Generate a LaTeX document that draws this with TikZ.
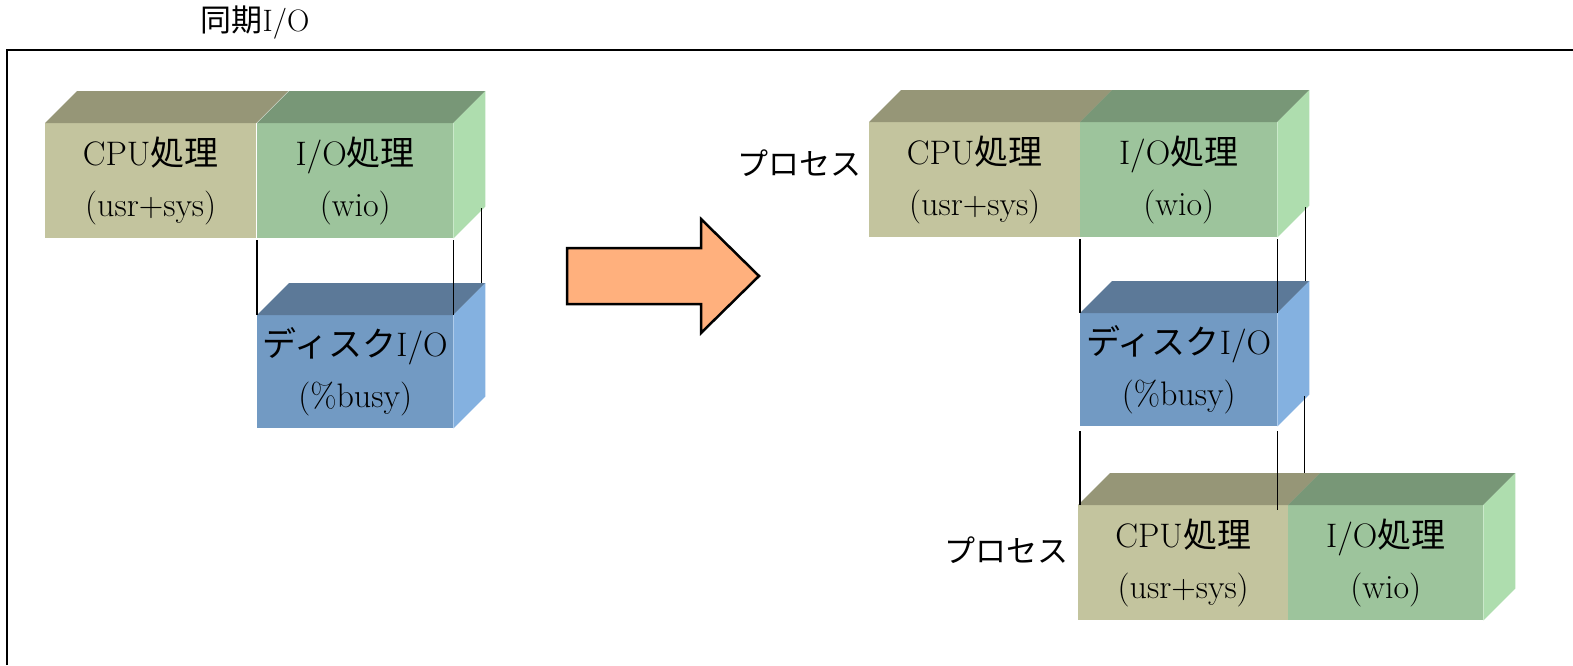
\documentclass[tikz,border=0pt]{standalone}
\usepackage{fontspec}
\usepackage{xcolor}
\usepackage{tikz}
\newfontfamily\jp{Noto Sans CJK JP}

\definecolor{cpufront}{HTML}{C3C49E}
\definecolor{cputop}{HTML}{969677}
\definecolor{iofront}{HTML}{9DC49C}
\definecolor{iotop}{HTML}{789777}
\definecolor{ioside}{HTML}{AEDDAE}
\definecolor{diskfront}{HTML}{729AC3}
\definecolor{disktop}{HTML}{5C7998}
\definecolor{diskside}{HTML}{84B1E0}
\definecolor{arrowfill}{HTML}{FFB07D}

\tikzset{
  frontface/.style={anchor=north west, inner sep=0pt, minimum height=115pt,
    align=center, font=\fontsize{34}{51}\selectfont},
  cpubox/.style={frontface, fill=cpufront, minimum width=211pt},
  iobox/.style={frontface, fill=iofront, minimum width=196pt},
  diskbox/.style={frontface, fill=diskfront, minimum width=196pt, minimum height=113pt},
  proclabel/.style={anchor=east, font=\fontsize{31}{36}\selectfont\jp},
  tie/.style={line width=1.4pt, shorten <=2pt},
}

\begin{document}
\begin{tikzpicture}[x=1pt, y=-1pt]
            \useasboundingbox (0,0) rectangle (1573,665);

            % frame and title
            \draw[line width=2pt] (7,665) -- (7,50) -- (1573,50);
            \node[font=\fontsize{31}{36}\selectfont] (title) at (255,23) {{\jp 同期}I/O};

            % left: before
            \node[cpubox] (cpuL) at (45,123) {CPU{\jp 処理}\\(usr+sys)};
            \node[iobox] (ioL) at (257,123) {I/O{\jp 処理}\\(wio)};
            \node[diskbox] (diskL) at (257,315) {{\jp ディスク}I/O\\(\%busy)};

            % right: after
            \node[cpubox] (cpuR) at (869,122) {CPU{\jp 処理}\\(usr+sys)};
            \node[iobox, minimum width=197pt] (ioR) at (1080,122) {I/O{\jp 処理}\\(wio)};
            \node[diskbox, minimum width=197pt] (diskR) at (1080,313) {{\jp ディスク}I/O\\(\%busy)};
            \node[cpubox, minimum width=210pt] (cpuB) at (1078,505) {CPU{\jp 処理}\\(usr+sys)};
            \node[iobox, minimum width=195pt] (ioB) at (1288,505) {I/O{\jp 処理}\\(wio)};
            \node[proclabel] (procR) at (865,163) {プロセス};
            \node[proclabel] (procB) at (1072,550) {プロセス};

            % tops and sides
            \foreach \b/\c in {cpuL/cputop, ioL/iotop, diskL/disktop, cpuR/cputop,
                               ioR/iotop, diskR/disktop, cpuB/cputop, ioB/iotop}
              \fill[\c] (\b.north west) -- ++(32,-32) -- ([shift={(32,-32)}]\b.north east)
                        -- (\b.north east) -- cycle;
            \foreach \b/\c in {ioL/ioside, diskL/diskside, ioR/ioside, diskR/diskside, ioB/ioside}
              \fill[\c] (\b.north east) -- ++(32,-32) -- ([shift={(32,-32)}]\b.south east)
                        -- (\b.south east) -- cycle;

            % ties between blocks
            \draw[tie] (ioL.south west) -- (diskL.north west);
            \draw[tie] (ioL.south east) -- (diskL.north east);
            \draw[tie] ([shift={(28,-32)}]ioL.south east) -- ([shift={(28,-32)}]diskL.north east);

            \draw[tie] (ioR.south west) -- (diskR.north west);
            \draw[tie] (ioR.south east) -- (diskR.north east);
            \draw[tie] ([shift={(28,-32)}]ioR.south east) -- ([shift={(28,-32)}]diskR.north east);

            \coordinate (sideR) at ([shift={(27,-32)}]diskR.south east);
            \coordinate (backB) at ([yshift=32pt]cpuB.north);
            \draw[tie, shorten <=5pt] (diskR.south west) -- (diskR.south west |- cpuB.north);
            \draw[tie, shorten <=5pt] (diskR.south east) -- ([yshift=-5pt]diskR.south east |- cpuB.north);
            \draw[tie] (sideR) -- (sideR |- backB);

            % big arrow
            \draw[line width=2.5pt, fill=arrowfill] (567,248) -- (701,248) -- (701,219)
              -- (759,276) -- (701,333) -- (701,304) -- (567,304) -- cycle;
          \end{tikzpicture}
\end{document}
